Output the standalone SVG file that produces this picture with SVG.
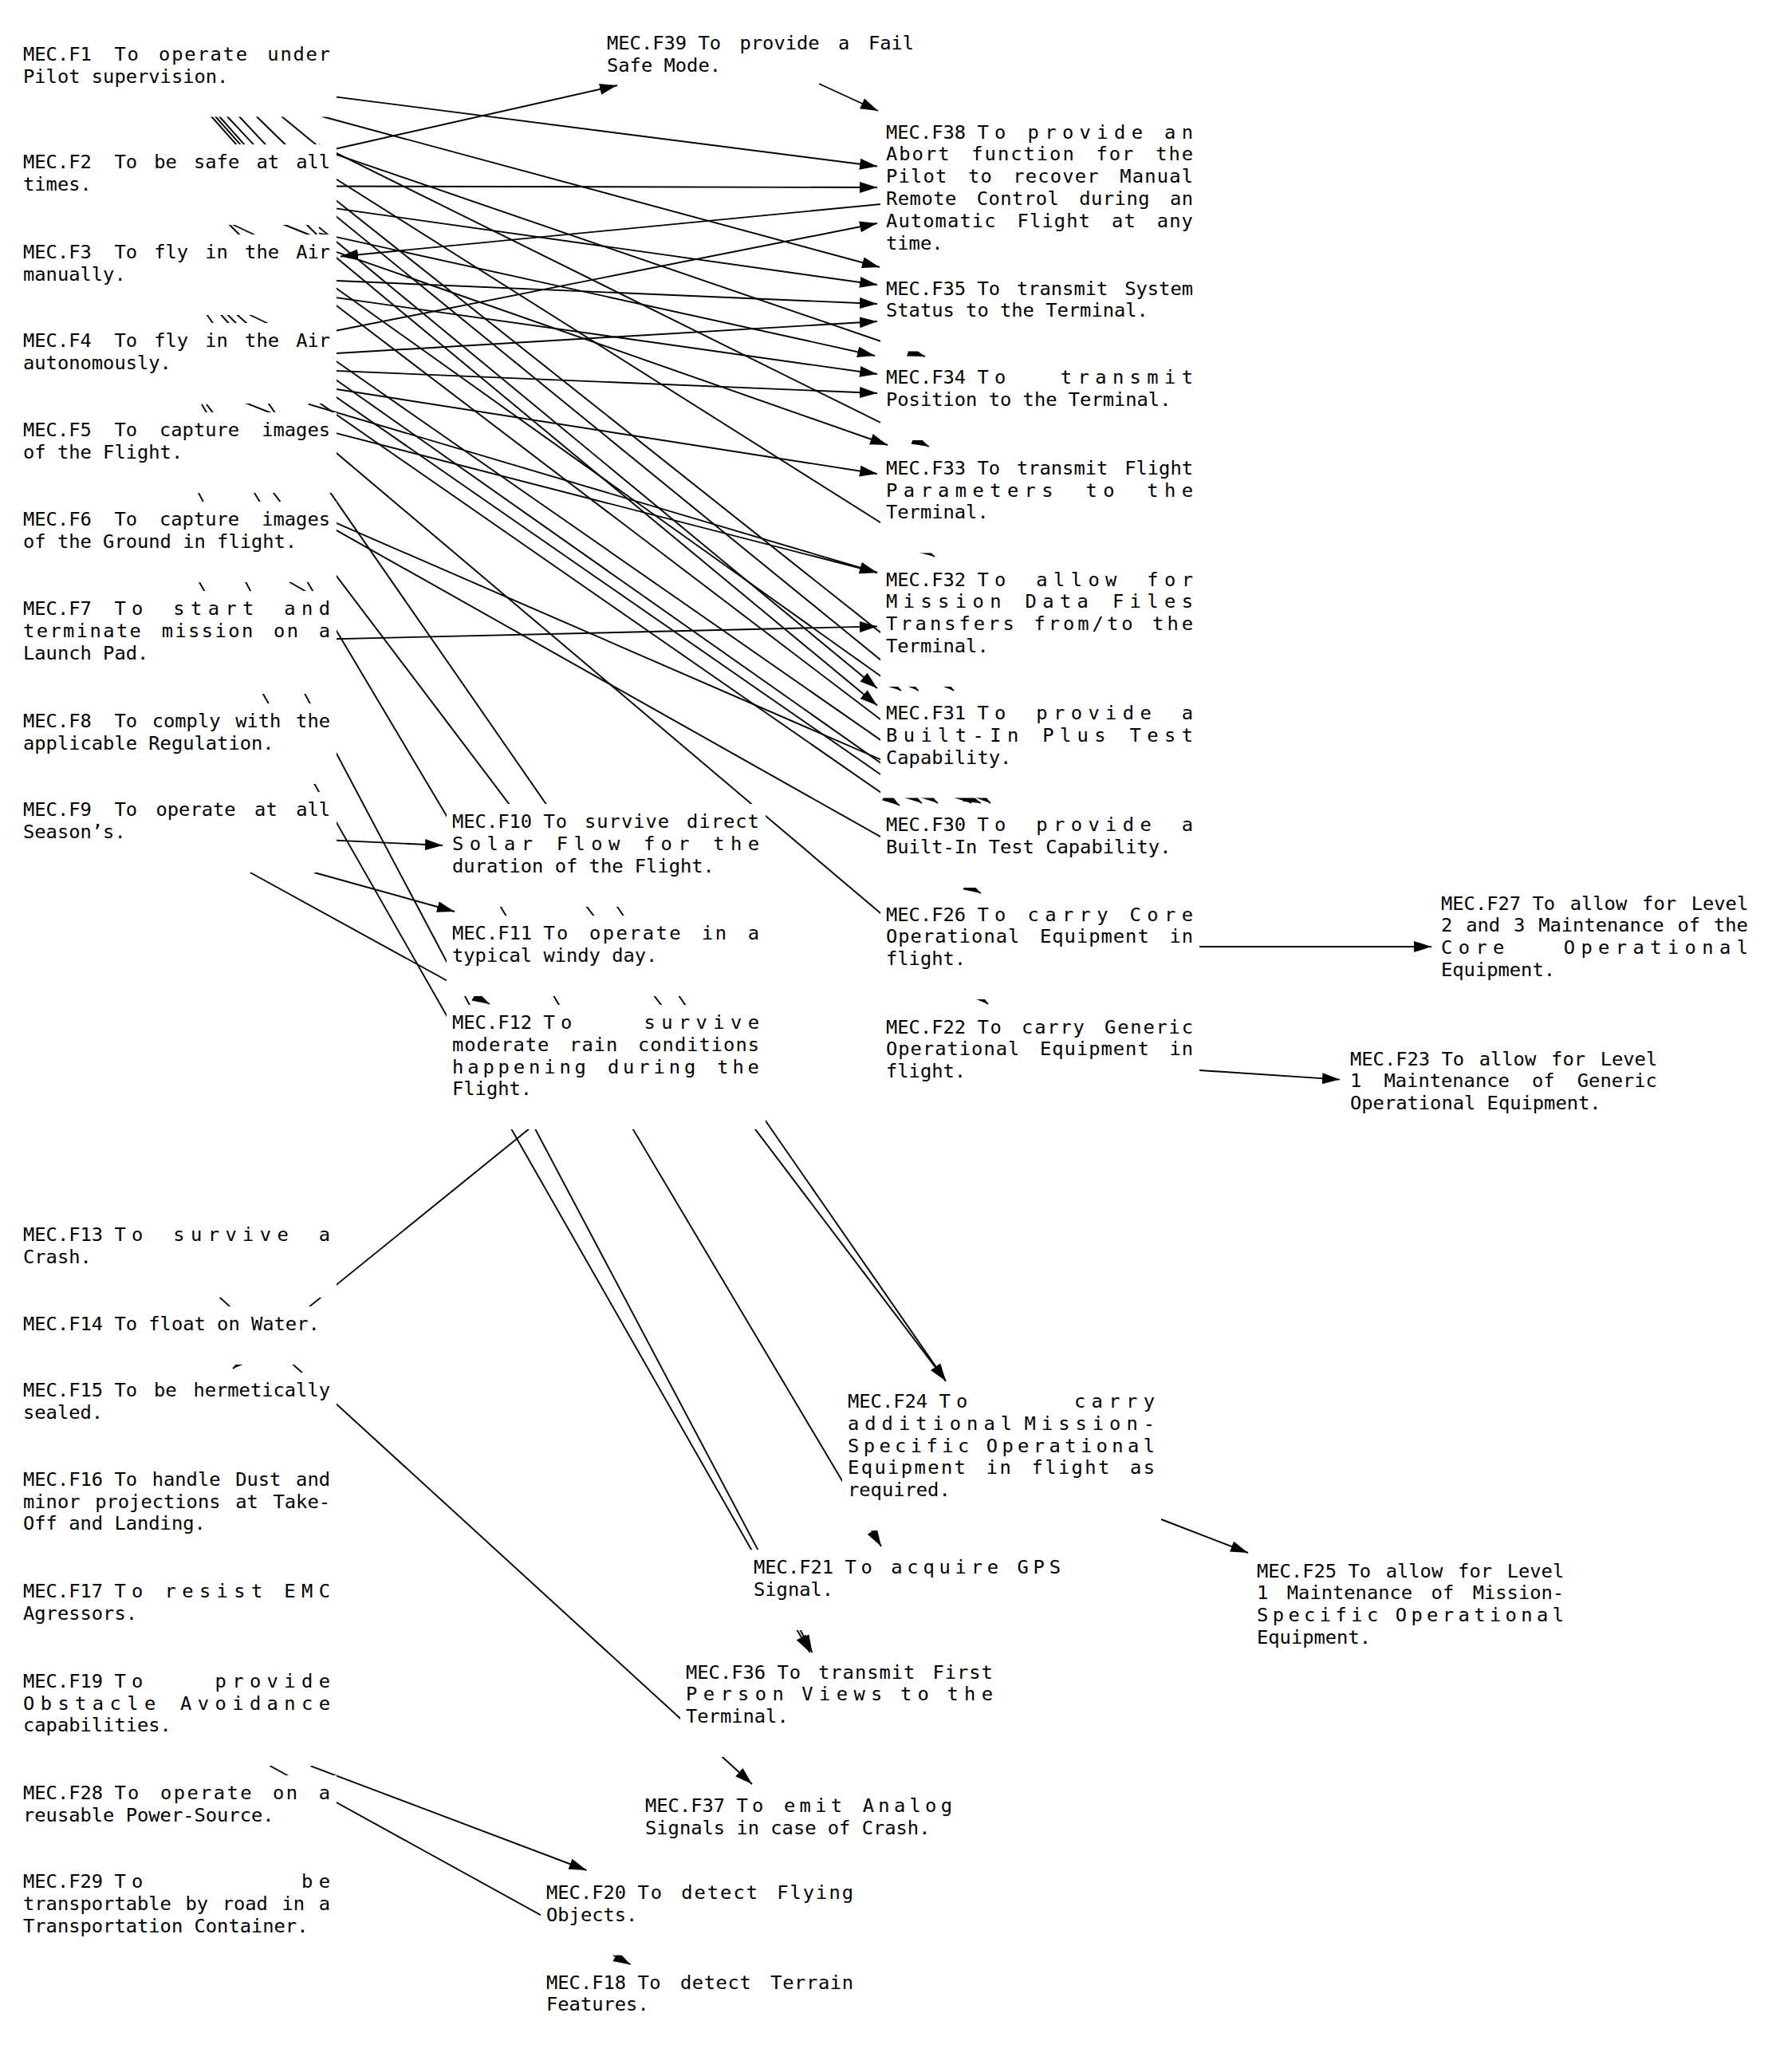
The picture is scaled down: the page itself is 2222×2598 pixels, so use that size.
<svg xmlns="http://www.w3.org/2000/svg" width="2222" height="2598" viewBox="0 0 2222 2598">
<style>
text{font-family:"DejaVu Sans Mono",monospace;font-size:23.75px;fill:#000}
.box{fill:#fff}
.e{stroke:#000;stroke-width:1.9;fill:none}
.a{marker-end:url(#ah)}
.q{letter-spacing:0.6px}.o{letter-spacing:0.5px}.e1{letter-spacing:1px}.p{letter-spacing:1.1px}.n{letter-spacing:1.2px}
.b{letter-spacing:1.8px}.m{letter-spacing:2px}.c{letter-spacing:2.4px}.g{letter-spacing:4px}.f{letter-spacing:4.9px}
.j{letter-spacing:5.3px}.h{letter-spacing:5.4px}.i{letter-spacing:5.8px}.k{letter-spacing:7px}.d{letter-spacing:7.4px}
</style>
<defs>
<marker id="ah" markerUnits="userSpaceOnUse" markerWidth="24" markerHeight="16" refX="22" refY="7" orient="auto"><path d="M0,0 L22,7 L0,14 z" fill="#000"/></marker>
</defs>
<rect width="2222" height="2598" fill="#fff"/>
<g id="connectors">
<path class="e a" d="M300,106 L1100,208.5"/>
<path class="e a" d="M300,214 L774,107"/>
<path class="e a" d="M300,233.3 L1100,235"/>
<path class="e a" d="M1150,251.6 L427,321.5"/>
<path class="e a" d="M300,438.7 L1100,280"/>
<path class="e a" d="M404,146 L1103,335"/>
<path class="e a" d="M300,244.3 L1100,357"/>
<path class="e a" d="M300,346.8 L1100,381"/>
<path class="e a" d="M300,450.2 L1100,403"/>
<path class="e a" d="M300,460 L1100,493"/>
<path class="e a" d="M300,356 L1100,469"/>
<path class="e a" d="M300,469 L1100,594"/>
<path class="e a" d="M386.7,506.7 L1100,718"/>
<path class="e a" d="M400,537.6 L1100,718"/>
<path class="e a" d="M300,804 L1100,785.4"/>
<path class="e a" d="M1027,105 L1101,139"/>
<path class="e a" d="M400,186.3 L1160,447"/>
<path class="e a" d="M400,181.1 L1165,560"/>
<path class="e a" d="M400,211 L1172,698"/>
<path class="e a" d="M400,292.4 L1097,446"/>
<path class="e a" d="M400,308.3 L1113,558"/>
<path class="e a" d="M400,234.2 L1196,866"/>
<path class="e a" d="M400,253.8 L1151.6,866"/>
<path class="e a" d="M400,285.1 L1100,863"/>
<path class="e a" d="M400,305.1 L1100,884.6"/>
<path class="e a" d="M400,346 L1130,866"/>
<path class="e a" d="M400,366.6 L1242,1007"/>
<path class="e a" d="M400,438 L1218,1007"/>
<path class="e a" d="M400,461.2 L1176,1007"/>
<path class="e a" d="M400,483 L1156,1007"/>
<path class="e a" d="M400,504.7 L1128,1010"/>
<path class="e a" d="M400,646.4 L1230,1007"/>
<path class="e a" d="M400,652.6 L1230,1120"/>
<path class="e a" d="M400,549.4 L1239,1259"/>
<path class="e a" d="M1504,1187 L1795,1187"/>
<path class="e a" d="M1504,1342 L1680,1353.6"/>
<path class="e a" d="M300,1048 L555,1060"/>
<path class="e a" d="M394,1094 L570,1143"/>
<path class="e a" d="M313.7,1094 L614,1259"/>
<path class="e a" d="M259,507 L1186,1731.6"/>
<path class="e a" d="M259.2,394 L1186,1731.6"/>
<path class="e a" d="M250,730 L1015.7,2072"/>
<path class="e a" d="M249,618 L1018.5,2072"/>
<path class="e a" d="M253,507 L1105,1939"/>
<path class="e a" d="M664,1415 L292,1716"/>
<path class="e a" d="M208,1565 L943,2237"/>
<path class="e a" d="M1456,1905 L1565,1947"/>
<path class="e a" d="M389.7,2214.3 L735.5,2345"/>
<path class="e a" d="M338.4,2214 L791,2463.5"/>
<path class="e" d="M263.3,144 L298.5,183.7"/>
<path class="e" d="M268.3,144 L303.5,183.7"/>
<path class="e" d="M273.3,144 L308.5,183.7"/>
<path class="e" d="M283.1,144 L320.2,183.7"/>
<path class="e" d="M298.1,144 L335.2,183.7"/>
<path class="e" d="M319.6,144 L360.4,183.7"/>
<path class="e" d="M350.8,144 L399.2,183.7"/>
<path class="e" d="M286,280 L302,296"/>
<path class="e" d="M288.5,280 L322.5,296"/>
<path class="e" d="M352,280 L392,296"/>
<path class="e" d="M383,280 L399,296"/>
<path class="e" d="M274.9,392 L289.1,408"/>
<path class="e" d="M283,392 L298.7,408"/>
<path class="e" d="M294.5,392 L312.2,408"/>
<path class="e" d="M307.5,392 L340.9,408"/>
<path class="e" d="M305,504 L343,519"/>
<path class="e" d="M360,728 L386,743"/>
</g>
<g id="F1"><rect class="box" x="22" y="45.5" width="400" height="101"/>
<text y="75.5"><tspan x="29">MEC.F1</tspan> <tspan x="143.4" class="b">To</tspan> <tspan x="199.1" class="b">operate</tspan> <tspan x="335.3" class="b">under</tspan></text>
<text x="29" y="103.5">Pilot supervision.</text></g>
<g id="F2"><rect class="box" x="22" y="181" width="400" height="101"/>
<text y="211"><tspan x="29">MEC.F2</tspan> <tspan x="143.4">To</tspan> <tspan x="193.2">be</tspan> <tspan x="243">safe</tspan> <tspan x="321.4">at</tspan> <tspan x="371.2">all</tspan></text>
<text x="29" y="239">times.</text></g>
<g id="F3"><rect class="box" x="22" y="294" width="400" height="101"/>
<text y="324"><tspan x="29">MEC.F3</tspan> <tspan x="143.4">To</tspan> <tspan x="193.2">fly</tspan> <tspan x="257.3">in</tspan> <tspan x="307.1">the</tspan> <tspan x="371.2">Air</tspan></text>
<text x="29" y="352">manually.</text></g>
<g id="F4"><rect class="box" x="22" y="405" width="400" height="101"/>
<text y="435"><tspan x="29">MEC.F4</tspan> <tspan x="143.4">To</tspan> <tspan x="193.2">fly</tspan> <tspan x="257.3">in</tspan> <tspan x="307.1">the</tspan> <tspan x="371.2">Air</tspan></text>
<text x="29" y="463">autonomously.</text></g>
<g id="F5"><rect class="box" x="22" y="517" width="400" height="101"/>
<text y="547"><tspan x="29">MEC.F5</tspan> <tspan x="143.4">To</tspan> <tspan x="200">capture</tspan> <tspan x="328.2">images</tspan></text>
<text x="29" y="575">of the Flight.</text></g>
<g id="F6"><rect class="box" x="22" y="629" width="400" height="101"/>
<text y="659"><tspan x="29">MEC.F6</tspan> <tspan x="143.4">To</tspan> <tspan x="200">capture</tspan> <tspan x="328.2">images</tspan></text>
<text x="29" y="687">of the Ground in flight.</text></g>
<g id="F7"><rect class="box" x="22" y="741" width="400" height="129"/>
<text y="771"><tspan x="29">MEC.F7</tspan> <tspan x="143.4" class="d">To</tspan> <tspan x="217.3" class="d">start</tspan> <tspan x="356.3" class="d">and</tspan></text>
<text y="799"><tspan x="29" class="c">terminate</tspan> <tspan x="202.7" class="c">mission</tspan> <tspan x="343" class="c">on</tspan> <tspan x="399.8">a</tspan></text>
<text x="29" y="827">Launch Pad.</text></g>
<g id="F8"><rect class="box" x="22" y="882" width="400" height="101"/>
<text y="912"><tspan x="29">MEC.F8</tspan> <tspan x="143.4">To</tspan> <tspan x="190.7">comply</tspan> <tspan x="295.2">with</tspan> <tspan x="371.1">the</tspan></text>
<text x="29" y="940">applicable Regulation.</text></g>
<g id="F9"><rect class="box" x="22" y="993" width="400" height="101"/>
<text y="1023"><tspan x="29">MEC.F9</tspan> <tspan x="143.4">To</tspan> <tspan x="195.5">operate</tspan> <tspan x="319.1">at</tspan> <tspan x="371.2">all</tspan></text>
<text x="29" y="1051">Season’s.</text></g>
<g id="F13"><rect class="box" x="22" y="1526" width="400" height="101"/>
<text y="1556"><tspan x="29">MEC.F13</tspan> <tspan x="143.4" class="d">To</tspan> <tspan x="217.3" class="d">survive</tspan> <tspan x="399.7">a</tspan></text>
<text x="29" y="1584">Crash.</text></g>
<g id="F14"><rect class="box" x="22" y="1638" width="400" height="73"/>
<text x="29" y="1668">MEC.F14 To float on Water.</text></g>
<g id="F15"><rect class="box" x="22" y="1721" width="400" height="101"/>
<text y="1751"><tspan x="29">MEC.F15</tspan> <tspan x="143.4">To</tspan> <tspan x="192.9">be</tspan> <tspan x="242.4">hermetically</tspan></text>
<text x="29" y="1779">sealed.</text></g>
<g id="F16"><rect class="box" x="22" y="1833" width="400" height="128"/>
<text y="1863"><tspan x="29">MEC.F16</tspan> <tspan x="143.4">To</tspan> <tspan x="190.7">handle</tspan> <tspan x="295.2">Dust</tspan> <tspan x="371.1">and</tspan></text>
<text y="1891"><tspan x="29">minor</tspan> <tspan x="119.2">projections</tspan> <tspan x="295.2">at</tspan> <tspan x="342.5">Take-</tspan></text>
<text x="29" y="1918">Off and Landing.</text></g>
<g id="F17"><rect class="box" x="22" y="1973" width="400" height="101"/>
<text y="2003"><tspan x="29">MEC.F17</tspan> <tspan x="143.4" class="d">To</tspan> <tspan x="206.5" class="d">resist</tspan> <tspan x="356.3" class="d">EMC</tspan></text>
<text x="29" y="2031">Agressors.</text></g>
<g id="F19"><rect class="box" x="22" y="2086" width="400" height="128"/>
<text y="2116"><tspan x="29">MEC.F19</tspan> <tspan x="143.4" class="d">To</tspan> <tspan x="269.5" class="d">provide</tspan></text>
<text y="2144"><tspan x="29" class="d">Obstacle</tspan> <tspan x="226.1" class="d">Avoidance</tspan></text>
<text x="29" y="2171">capabilities.</text></g>
<g id="F28"><rect class="box" x="22" y="2226" width="400" height="101"/>
<text y="2256"><tspan x="29">MEC.F28</tspan> <tspan x="143.4" class="c">To</tspan> <tspan x="201" class="c">operate</tspan> <tspan x="342.1" class="c">on</tspan> <tspan x="399.7">a</tspan></text>
<text x="29" y="2284">reusable Power-Source.</text></g>
<g id="F29"><rect class="box" x="22" y="2337" width="400" height="129"/>
<text y="2367"><tspan x="29">MEC.F29</tspan> <tspan x="143.4" class="d">To</tspan> <tspan x="378" class="d">be</tspan></text>
<text y="2395"><tspan x="29">transportable</tspan> <tspan x="232.5">by</tspan> <tspan x="278.7">road</tspan> <tspan x="353.5">in</tspan> <tspan x="399.7">a</tspan></text>
<text x="29" y="2423">Transportation Container.</text></g>
<g id="F39"><rect class="box" x="754" y="32" width="400" height="72"/>
<text y="62"><tspan x="761">MEC.F39</tspan> <tspan x="875.4">To</tspan> <tspan x="927.5">provide</tspan> <tspan x="1051.1">a</tspan> <tspan x="1088.9">Fail</tspan></text>
<text x="761" y="90">Safe Mode.</text></g>
<g id="F10"><rect class="box" x="560" y="1008" width="400" height="129"/>
<text y="1038"><tspan x="567">MEC.F10</tspan> <tspan x="681.4" class="e1">To</tspan> <tspan x="733" class="e1">survive</tspan> <tspan x="861.1" class="e1">direct</tspan></text>
<text y="1066"><tspan x="567" class="d">Solar</tspan> <tspan x="697.8" class="d">Flow</tspan> <tspan x="806.9" class="d">for</tspan> <tspan x="894.3" class="d">the</tspan></text>
<text x="567" y="1094">duration of the Flight.</text></g>
<g id="F11"><rect class="box" x="560" y="1148" width="400" height="101"/>
<text y="1178"><tspan x="567">MEC.F11</tspan> <tspan x="681.4" class="c">To</tspan> <tspan x="739" class="c">operate</tspan> <tspan x="880.1" class="c">in</tspan> <tspan x="937.7">a</tspan></text>
<text x="567" y="1206">typical windy day.</text></g>
<g id="F12"><rect class="box" x="560" y="1260" width="400" height="156"/>
<text y="1290"><tspan x="567">MEC.F12</tspan> <tspan x="681.4" class="d">To</tspan> <tspan x="807.5" class="d">survive</tspan></text>
<text y="1318"><tspan x="567" class="e1">moderate</tspan> <tspan x="714.1" class="e1">rain</tspan> <tspan x="800" class="e1">conditions</tspan></text>
<text y="1346"><tspan x="567" class="f">happening</tspan> <tspan x="761.9" class="f">during</tspan> <tspan x="899.2" class="f">the</tspan></text>
<text x="567" y="1373">Flight.</text></g>
<g id="F38"><rect class="box" x="1104" y="143.5" width="400" height="212"/>
<text y="173.5"><tspan x="1111">MEC.F38</tspan> <tspan x="1225.4" class="d">To</tspan> <tspan x="1288.5" class="d">provide</tspan> <tspan x="1460" class="d">an</tspan></text>
<text y="201.3"><tspan x="1111" class="m">Abort</tspan> <tspan x="1218.3" class="m">function</tspan> <tspan x="1374.5" class="m">for</tspan> <tspan x="1449.2" class="m">the</tspan></text>
<text y="229.1"><tspan x="1111" class="n">Pilot</tspan> <tspan x="1213.9" class="n">to</tspan> <tspan x="1270.3" class="n">recover</tspan> <tspan x="1404.2" class="n">Manual</tspan></text>
<text y="256.9"><tspan x="1111" class="o">Remote</tspan> <tspan x="1224.7" class="o">Control</tspan> <tspan x="1353.2" class="o">during</tspan> <tspan x="1466.9" class="o">an</tspan></text>
<text y="284.7"><tspan x="1111" class="p">Automatic</tspan> <tspan x="1275.6" class="p">Flight</tspan> <tspan x="1394" class="p">at</tspan> <tspan x="1450.8" class="p">any</tspan></text>
<text x="1111" y="312.5">time.</text></g>
<g id="F35"><rect class="box" x="1104" y="339.5" width="400" height="101"/>
<text y="369.5"><tspan x="1111">MEC.F35</tspan> <tspan x="1225.4">To</tspan> <tspan x="1274.9">transmit</tspan> <tspan x="1410.2">System</tspan></text>
<text x="1111" y="397.3">Status to the Terminal.</text></g>
<g id="F34"><rect class="box" x="1104" y="451" width="400" height="101"/>
<text y="481"><tspan x="1111">MEC.F34</tspan> <tspan x="1225.4" class="d">To</tspan> <tspan x="1329.8" class="d">transmit</tspan></text>
<text x="1111" y="509">Position to the Terminal.</text></g>
<g id="F33"><rect class="box" x="1104" y="564.8" width="400" height="128.6"/>
<text y="594.8"><tspan x="1111">MEC.F33</tspan> <tspan x="1225.4">To</tspan> <tspan x="1274.9">transmit</tspan> <tspan x="1410.2">Flight</tspan></text>
<text y="622.6"><tspan x="1111" class="d">Parameters</tspan> <tspan x="1361.5" class="d">to</tspan> <tspan x="1438.3" class="d">the</tspan></text>
<text x="1111" y="650.4">Terminal.</text></g>
<g id="F32"><rect class="box" x="1104" y="704.5" width="400" height="156.5"/>
<text y="734.5"><tspan x="1111">MEC.F32</tspan> <tspan x="1225.4" class="d">To</tspan> <tspan x="1299.3" class="d">allow</tspan> <tspan x="1438.3" class="d">for</tspan></text>
<text y="762.3"><tspan x="1111" class="d">Mission</tspan> <tspan x="1285.5" class="d">Data</tspan> <tspan x="1394.9" class="d">Files</tspan></text>
<text y="790"><tspan x="1111" class="g">Transfers</tspan> <tspan x="1296.4" class="g">from/to</tspan> <tspan x="1445.1" class="g">the</tspan></text>
<text x="1111" y="818">Terminal.</text></g>
<g id="F31"><rect class="box" x="1104" y="872" width="400" height="128.5"/>
<text y="902"><tspan x="1111">MEC.F31</tspan> <tspan x="1225.4" class="d">To</tspan> <tspan x="1299.3" class="d">provide</tspan> <tspan x="1481.7">a</tspan></text>
<text y="930"><tspan x="1111" class="d">Built-In</tspan> <tspan x="1307.2" class="d">Plus</tspan> <tspan x="1416.6" class="d">Test</tspan></text>
<text x="1111" y="957.5">Capability.</text></g>
<g id="F30"><rect class="box" x="1104" y="1012" width="400" height="101"/>
<text y="1042"><tspan x="1111">MEC.F30</tspan> <tspan x="1225.4" class="d">To</tspan> <tspan x="1299.3" class="d">provide</tspan> <tspan x="1481.7">a</tspan></text>
<text x="1111" y="1070">Built-In Test Capability.</text></g>
<g id="F26"><rect class="box" x="1104" y="1124.5" width="400" height="128.5"/>
<text y="1154.5"><tspan x="1111">MEC.F26</tspan> <tspan x="1225.4" class="d">To</tspan> <tspan x="1288.5" class="d">carry</tspan> <tspan x="1416.6" class="d">Core</tspan></text>
<text y="1182.3"><tspan x="1111" class="e1">Operational</tspan> <tspan x="1304" class="e1">Equipment</tspan> <tspan x="1466.4" class="e1">in</tspan></text>
<text x="1111" y="1210">flight.</text></g>
<g id="F22"><rect class="box" x="1104" y="1265.5" width="400" height="128.5"/>
<text y="1295.5"><tspan x="1111">MEC.F22</tspan> <tspan x="1225.4" class="b">To</tspan> <tspan x="1281.1" class="b">carry</tspan> <tspan x="1385.1" class="b">Generic</tspan></text>
<text y="1323.3"><tspan x="1111" class="e1">Operational</tspan> <tspan x="1304" class="e1">Equipment</tspan> <tspan x="1466.4" class="e1">in</tspan></text>
<text x="1111" y="1351">flight.</text></g>
<g id="F27"><rect class="box" x="1800" y="1110.5" width="400" height="156.5"/>
<text y="1140.5"><tspan x="1807">MEC.F27</tspan> <tspan x="1921.4">To</tspan> <tspan x="1968.7">allow</tspan> <tspan x="2059.1">for</tspan> <tspan x="2120.7">Level</tspan></text>
<text y="1168.3"><tspan x="1807">2</tspan> <tspan x="1838.2">and</tspan> <tspan x="1898">3</tspan> <tspan x="1929.2">Maintenance</tspan> <tspan x="2103.4">of</tspan> <tspan x="2149">the</tspan></text>
<text y="1196"><tspan x="1807" class="d">Core</tspan> <tspan x="1960.7" class="d">Operational</tspan></text>
<text x="1807" y="1224">Equipment.</text></g>
<g id="F23"><rect class="box" x="1686" y="1305.5" width="400" height="128.5"/>
<text y="1335.5"><tspan x="1693">MEC.F23</tspan> <tspan x="1807.4">To</tspan> <tspan x="1854.7">allow</tspan> <tspan x="1945.1">for</tspan> <tspan x="2006.7">Level</tspan></text>
<text y="1363.3"><tspan x="1693">1</tspan> <tspan x="1735.5">Maintenance</tspan> <tspan x="1921">of</tspan> <tspan x="1977.8">Generic</tspan></text>
<text x="1693" y="1391">Operational Equipment.</text></g>
<g id="F24"><rect class="box" x="1056" y="1735" width="400" height="184"/>
<text y="1765"><tspan x="1063">MEC.F24</tspan> <tspan x="1177.4" class="d">To</tspan> <tspan x="1346.9" class="d">carry</tspan></text>
<text y="1792.8"><tspan x="1063" class="k">additional</tspan> <tspan x="1284.6" class="k">Mission-</tspan></text>
<text y="1820.6"><tspan x="1063" class="h">Specific</tspan> <tspan x="1236.7" class="h">Operational</tspan></text>
<text y="1848.4"><tspan x="1063" class="c">Equipment</tspan> <tspan x="1236.7" class="c">in</tspan> <tspan x="1293.5" class="c">flight</tspan> <tspan x="1417" class="c">as</tspan></text>
<text x="1063" y="1876.2">required.</text></g>
<g id="F25"><rect class="box" x="1569" y="1947.5" width="400" height="156.5"/>
<text y="1977.5"><tspan x="1576">MEC.F25</tspan> <tspan x="1690.4">To</tspan> <tspan x="1737.7">allow</tspan> <tspan x="1828.1">for</tspan> <tspan x="1889.7">Level</tspan></text>
<text y="2005.3"><tspan x="1576">1</tspan> <tspan x="1613.8">Maintenance</tspan> <tspan x="1794.6">of</tspan> <tspan x="1846.7">Mission-</tspan></text>
<text y="2033.1"><tspan x="1576" class="h">Specific</tspan> <tspan x="1749.7" class="h">Operational</tspan></text>
<text x="1576" y="2060.9">Equipment.</text></g>
<g id="F21"><rect class="box" x="938" y="1943" width="400" height="101"/>
<text y="1973"><tspan x="945">MEC.F21</tspan> <tspan x="1059.4" class="i">To</tspan> <tspan x="1117.2" class="i">acquire</tspan> <tspan x="1275.5" class="i">GPS</tspan></text>
<text x="945" y="2001">Signal.</text></g>
<g id="F36"><rect class="box" x="853" y="2074.5" width="400" height="128.5"/>
<text y="2104.5"><tspan x="860">MEC.F36</tspan> <tspan x="974.4" class="e1">To</tspan> <tspan x="1026" class="e1">transmit</tspan> <tspan x="1169.4" class="e1">First</tspan></text>
<text y="2132.3"><tspan x="860" class="d">Person</tspan> <tspan x="1005.3" class="d">Views</tspan> <tspan x="1128.9" class="d">to</tspan> <tspan x="1187.4" class="d">the</tspan></text>
<text x="860" y="2160">Terminal.</text></g>
<g id="F37"><rect class="box" x="802" y="2242" width="400" height="101"/>
<text y="2272"><tspan x="809">MEC.F37</tspan> <tspan x="923.4" class="j">To</tspan> <tspan x="983" class="j">emit</tspan> <tspan x="1081.7" class="j">Analog</tspan></text>
<text x="809" y="2300">Signals in case of Crash.</text></g>
<g id="F20"><rect class="box" x="678" y="2351" width="400" height="100.6"/>
<text y="2381"><tspan x="685">MEC.F20</tspan> <tspan x="799.4" class="m">To</tspan> <tspan x="854.2" class="m">detect</tspan> <tspan x="974.2" class="m">Flying</tspan></text>
<text x="685" y="2408.6">Objects.</text></g>
<g id="F18"><rect class="box" x="678" y="2463.5" width="400" height="100.8"/>
<text y="2493.5"><tspan x="685">MEC.F18</tspan> <tspan x="799.4" class="q">To</tspan> <tspan x="852.9" class="q">detect</tspan> <tspan x="966.3" class="q">Terrain</tspan></text>
<text x="685" y="2521.3">Features.</text></g>
</svg>
